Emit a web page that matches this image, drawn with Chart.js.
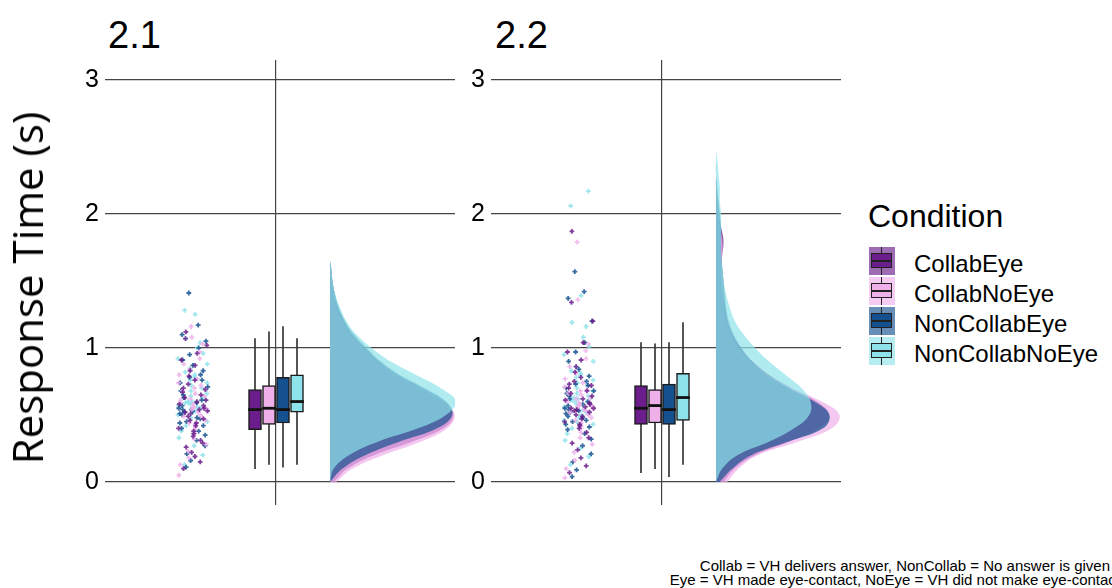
<!DOCTYPE html>
<html>
<head>
<meta charset="utf-8">
<script src="https://cdn.jsdelivr.net/npm/chart.js@4.4.1/dist/chart.umd.min.js"></script>
<style>
  body { margin: 0; width: 1112px; height: 588px; overflow: hidden; background: #fff; position: relative;
         font-family: "Liberation Sans", Arial, sans-serif; color: #000; }
  canvas, .abs { position: absolute; }
  .abs { white-space: nowrap; }
  .ptitle { font-size: 38px; line-height: 38px; }
  #ytitle { font-family: "Open Sans", sans-serif; font-size: 42px; line-height: 42px;
            transform: translate(-50%, -50%) rotate(-90deg); }
  #legtitle { font-size: 32px; line-height: 32px; }
  .leglabel { font-size: 24px; line-height: 24px; }
  .key { width: 26px; height: 28px; }
  .key .wh { position: absolute; left: 12px; top: 0; width: 1.3px; height: 28px; background: #222; }
  .key .bx { position: absolute; left: 2px; top: 6px; width: 19px; height: 13px; border: 1.5px solid #222; }
  .key .md { position: absolute; left: 0; top: 5.5px; width: 19px; height: 2px; background: #222; }
  .cap { font-size: 15px; line-height: 15px; }
</style>
</head>
<body>
<canvas id="panel21" width="415" height="445" style="left:40px; top:60px;"></canvas>
<canvas id="panel22" width="415" height="445" style="left:426px; top:60px;"></canvas>

<div class="abs ptitle" style="left:108px; top:16px;">2.1</div>
<div class="abs ptitle" style="left:495px; top:16px;">2.2</div>
<div class="abs" id="ytitle" style="left:27px; top:288px;">Response Time (s)</div>
<div class="abs" id="legtitle" style="left:868px; top:200px;">Condition</div>
<div id="legend"></div>
<div class="abs cap" style="right:2px; top:558px;">Collab = VH delivers answer, NonCollab = No answer is given</div>
<div class="abs cap" style="right:-8px; top:572px;">Eye = VH made eye-contact, NoEye = VH did not make eye-contact</div>

<script>
// Conditions and colours
const conditions = ['CollabEye', 'CollabNoEye', 'NonCollabEye', 'NonCollabNoEye'];
const condColors = ['#6a1d8b', '#efb0ea', '#15518f', '#8ee3ea'];
const yTicks = [0, 1, 2, 3];

// Response times (s) - panel 2.1
const rt21CollabEye = [0.10, 0.15, 0.19, 0.22, 0.26, 0.29, 0.31, 0.34, 0.36, 0.38, 0.40, 0.42, 0.44, 0.46, 0.47, 0.49, 0.51, 0.52, 0.53, 0.54,
  0.55, 0.57, 0.58, 0.60, 0.61, 0.63, 0.65, 0.67, 0.69, 0.70, 0.73, 0.76, 0.79, 0.83, 0.87, 0.91, 0.96, 1.02, 1.07, 1.12];
const rt21CollabNoEye = [0.05, 0.13, 0.18, 0.23, 0.28, 0.32, 0.36, 0.39, 0.41, 0.43, 0.44, 0.46, 0.48, 0.49, 0.50, 0.52, 0.53, 0.54, 0.55, 0.55,
  0.56, 0.58, 0.59, 0.61, 0.62, 0.64, 0.66, 0.68, 0.70, 0.72, 0.74, 0.77, 0.80, 0.84, 0.88, 0.92, 0.97, 1.03, 1.08, 1.16];
const rt21NonCollabEye = [0.11, 0.16, 0.21, 0.27, 0.31, 0.35, 0.38, 0.40, 0.42, 0.44, 0.45, 0.47, 0.48, 0.50, 0.51, 0.52, 0.53, 0.54, 0.54, 0.55,
  0.57, 0.59, 0.61, 0.63, 0.65, 0.68, 0.71, 0.74, 0.76, 0.78, 0.80, 0.83, 0.87, 0.91, 0.95, 1.00, 1.05, 1.10, 1.17, 1.41];
const rt21NonCollabNoEye = [0.13, 0.20, 0.27, 0.33, 0.38, 0.42, 0.45, 0.48, 0.50, 0.52, 0.53, 0.55, 0.56, 0.57, 0.58, 0.59, 0.59, 0.60, 0.60, 0.61,
  0.63, 0.64, 0.66, 0.68, 0.70, 0.72, 0.74, 0.76, 0.78, 0.80, 0.82, 0.85, 0.88, 0.92, 0.96, 1.00, 1.04, 1.07, 1.25, 1.28];

// Response times (s) - panel 2.2
const rt22CollabEye = [0.07, 0.12, 0.18, 0.24, 0.29, 0.33, 0.37, 0.40, 0.42, 0.43, 0.45, 0.47, 0.49, 0.50, 0.52, 0.53, 0.54, 0.55, 0.55, 0.56,
  0.58, 0.59, 0.61, 0.62, 0.64, 0.66, 0.68, 0.70, 0.72, 0.73, 0.75, 0.78, 0.82, 0.86, 0.91, 0.97, 1.04, 1.20, 1.34, 1.87];
const rt22CollabNoEye = [0.03, 0.10, 0.16, 0.22, 0.28, 0.33, 0.37, 0.40, 0.42, 0.44, 0.46, 0.48, 0.50, 0.52, 0.53, 0.54, 0.55, 0.56, 0.57, 0.57,
  0.58, 0.59, 0.60, 0.61, 0.62, 0.63, 0.65, 0.66, 0.68, 0.69, 0.71, 0.74, 0.77, 0.81, 0.86, 0.92, 0.98, 1.03, 1.36, 1.79];
const rt22NonCollabEye = [0.04, 0.09, 0.15, 0.21, 0.27, 0.32, 0.36, 0.39, 0.41, 0.43, 0.45, 0.46, 0.48, 0.49, 0.51, 0.52, 0.53, 0.54, 0.54, 0.55,
  0.57, 0.58, 0.60, 0.62, 0.64, 0.66, 0.68, 0.70, 0.72, 0.73, 0.75, 0.79, 0.84, 0.90, 0.97, 1.04, 1.20, 1.37, 1.42, 1.57];
const rt22NonCollabNoEye = [0.13, 0.19, 0.25, 0.31, 0.36, 0.40, 0.43, 0.45, 0.46, 0.48, 0.50, 0.52, 0.54, 0.56, 0.58, 0.60, 0.61, 0.62, 0.63, 0.63,
  0.64, 0.66, 0.68, 0.70, 0.72, 0.74, 0.76, 0.78, 0.80, 0.81, 0.83, 0.86, 0.90, 0.95, 1.01, 1.08, 1.16, 1.19, 1.39, 2.06, 2.17];

// Boxplot stats per condition: whisker low, Q1, median, Q3, whisker high
const box21Low = [0.10, 0.13, 0.11, 0.13];
const box21Q1 = [0.39, 0.43, 0.44, 0.52];
const box21Med = [0.54, 0.55, 0.54, 0.60];
const box21Q3 = [0.69, 0.72, 0.78, 0.80];
const box21High = [1.07, 1.12, 1.16, 1.07];
const box22Low = [0.07, 0.10, 0.04, 0.13];
const box22Q1 = [0.43, 0.44, 0.43, 0.46];
const box22Med = [0.55, 0.57, 0.54, 0.63];
const box22Q3 = [0.72, 0.69, 0.73, 0.81];
const box22High = [1.04, 1.03, 1.04, 1.19];

// Half-violin densities (relative width) at these response times
const densY21 = [0, 0.1, 0.2, 0.3, 0.4, 0.5, 0.6, 0.7, 0.8, 0.9, 1.0, 1.1, 1.2, 1.3, 1.4, 1.5, 1.6, 1.65];
const dens21CollabEye = [0.03, 0.14, 0.35, 0.65, 0.90, 0.98, 0.90, 0.72, 0.52, 0.38, 0.27, 0.17, 0.11, 0.06, 0.03, 0.01, 0, 0];
const dens21CollabNoEye = [0.05, 0.18, 0.42, 0.72, 0.93, 0.99, 0.90, 0.72, 0.52, 0.37, 0.26, 0.16, 0.10, 0.05, 0.03, 0.01, 0, 0];
const dens21NonCollabEye = [0.00, 0.10, 0.28, 0.55, 0.85, 0.97, 0.92, 0.75, 0.55, 0.40, 0.29, 0.19, 0.12, 0.07, 0.04, 0.02, 0.01, 0];
const dens21NonCollabNoEye = [0.00, 0.03, 0.15, 0.38, 0.70, 0.92, 1.00, 0.88, 0.68, 0.48, 0.33, 0.21, 0.13, 0.08, 0.04, 0.02, 0.01, 0];

const densY22 = [0, 0.1, 0.2, 0.3, 0.4, 0.5, 0.6, 0.7, 0.8, 0.9, 1.0, 1.1, 1.2, 1.3, 1.4, 1.5, 1.6, 1.7, 1.8, 1.9, 2.0, 2.1, 2.2, 2.3, 2.4, 2.48];
const dens22CollabEye = [0.06, 0.15, 0.31, 0.58, 0.82, 0.90, 0.80, 0.60, 0.42, 0.29, 0.20, 0.13, 0.09, 0.07, 0.05, 0.04, 0.04, 0.05, 0.06, 0.04, 0.02, 0.01, 0, 0, 0, 0];
const dens22CollabNoEye = [0.09, 0.18, 0.33, 0.65, 0.92, 0.98, 0.84, 0.60, 0.40, 0.27, 0.18, 0.12, 0.08, 0.06, 0.05, 0.04, 0.04, 0.05, 0.05, 0.03, 0.02, 0.01, 0, 0, 0, 0];
const dens22NonCollabEye = [0.03, 0.13, 0.28, 0.57, 0.85, 0.90, 0.78, 0.58, 0.40, 0.28, 0.20, 0.14, 0.10, 0.08, 0.07, 0.06, 0.05, 0.04, 0.04, 0.04, 0.03, 0.02, 0.01, 0, 0, 0];
const dens22NonCollabNoEye = [0.00, 0.05, 0.17, 0.42, 0.62, 0.74, 0.75, 0.68, 0.55, 0.42, 0.31, 0.22, 0.15, 0.11, 0.08, 0.06, 0.05, 0.04, 0.04, 0.04, 0.04, 0.03, 0.03, 0.02, 0.01, 0];

// Layout inside a panel (x units = px from the category line)
const X_MIN = -171, X_MAX = 179;
const JITTER_X = -83, JITTER_W = 15;
const BOX_X = [-21, -7, 7, 21];
const DENS_X = 54, DENS_W = 126;

function rgba(hex, a) {
  const n = parseInt(hex.slice(1), 16);
  return `rgba(${n >> 16}, ${(n >> 8) & 255}, ${n & 255}, ${a})`;
}

// fixed horizontal scatter for the dots (hash of index, same every run)
function jitter(i, k) {
  const h = Math.sin(i * 12.9898 + k * 78.233) * 43758.5453;
  return (h - Math.floor(h)) * 2 - 1;
}

function makePanel(canvasId, rt, lo, q1, med, q3, hi, densY, dens) {
  const datasets = [];

  // jittered raw observations
  rt.forEach((vals, k) => {
    datasets.push({
      type: 'scatter',
      data: vals.map((v, i) => ({ x: JITTER_X + JITTER_W * jitter(i, k + 1), y: v })),
      pointStyle: 'cross', pointRadius: 2.4, borderWidth: 1.8,
      borderColor: rgba(condColors[k], 0.85), backgroundColor: rgba(condColors[k], 0.85),
      order: 1
    });
  });

  // whiskers
  datasets.push({
    type: 'bar', grouped: false, barThickness: 1, order: 5,
    data: conditions.map((c, k) => ({ x: BOX_X[k], y: [lo[k], hi[k]] })),
    backgroundColor: '#333'
  });
  // boxes
  datasets.push({
    type: 'bar', grouped: false, barThickness: 13, order: 4,
    data: conditions.map((c, k) => ({ x: BOX_X[k], y: [q1[k], q3[k]] })),
    backgroundColor: condColors, borderColor: '#1b1b1b', borderWidth: 1.5, borderSkipped: false
  });
  // medians
  datasets.push({
    type: 'bar', grouped: false, barThickness: 13, order: 3,
    data: conditions.map((c, k) => ({ x: BOX_X[k], y: [med[k] - 0.008, med[k] + 0.008] })),
    backgroundColor: '#111'
  });

  // half violins, drawn purple first, teal last
  dens.forEach((d, k) => {
    datasets.push({
      type: 'line', indexAxis: 'y', order: 9 - k,
      data: densY.map((y, i) => ({ x: DENS_X + DENS_W * d[i], y: y })),
      borderWidth: 0, pointRadius: 0, tension: 0.4,
      backgroundColor: rgba(condColors[k], 0.7),
      fill: { value: DENS_X }
    });
  });

  return new Chart(document.getElementById(canvasId), {
    type: 'scatter',
    data: { datasets: datasets },
    options: {
      responsive: false,
      animation: false,
      events: [],
      layout: { padding: 0, autoPadding: false },
      plugins: { legend: { display: false }, tooltip: { enabled: false } },
      scales: {
        x: {
          type: 'linear', min: X_MIN, max: X_MAX, offset: false,
          border: { display: false },
          grid: { color: '#444', lineWidth: 1.2, drawTicks: false, offset: false },
          ticks: { display: false },
          afterBuildTicks: s => { s.ticks = [{ value: 0 }]; },
          afterFit: s => { s.height = 0; s.paddingLeft = 0; s.paddingRight = 0; }
        },
        y: {
          type: 'linear', min: -0.172, max: 3.149,
          border: { display: false },
          grid: { color: '#444', lineWidth: 1.2, drawTicks: false },
          ticks: { color: '#000', padding: 6, font: { family: '"Liberation Sans", Arial, sans-serif', size: 25 } },
          afterBuildTicks: s => { s.ticks = yTicks.map(v => ({ value: v })); },
          afterFit: s => { s.width = 65; s.paddingTop = 0; s.paddingBottom = 0; }
        }
      }
    }
  });
}

makePanel('panel21',
  [rt21CollabEye, rt21CollabNoEye, rt21NonCollabEye, rt21NonCollabNoEye],
  box21Low, box21Q1, box21Med, box21Q3, box21High,
  densY21, [dens21CollabEye, dens21CollabNoEye, dens21NonCollabEye, dens21NonCollabNoEye]);

makePanel('panel22',
  [rt22CollabEye, rt22CollabNoEye, rt22NonCollabEye, rt22NonCollabNoEye],
  box22Low, box22Q1, box22Med, box22Q3, box22High,
  densY22, [dens22CollabEye, dens22CollabNoEye, dens22NonCollabEye, dens22NonCollabNoEye]);

// Legend
const legend = document.getElementById('legend');
conditions.forEach((name, k) => {
  const top = 247 + k * 30;
  const key = document.createElement('div');
  key.className = 'abs key';
  key.style.left = '869px';
  key.style.top = top + 'px';
  key.style.background = rgba(condColors[k], 0.65);
  key.innerHTML = '<div class="wh"></div><div class="bx" style="background:' + condColors[k] + '"><div class="md"></div></div>';
  legend.appendChild(key);

  const label = document.createElement('div');
  label.className = 'abs leglabel';
  label.style.left = '914px';
  label.style.top = (top + 5) + 'px';
  label.textContent = name;
  legend.appendChild(label);
});
</script>
</body>
</html>
